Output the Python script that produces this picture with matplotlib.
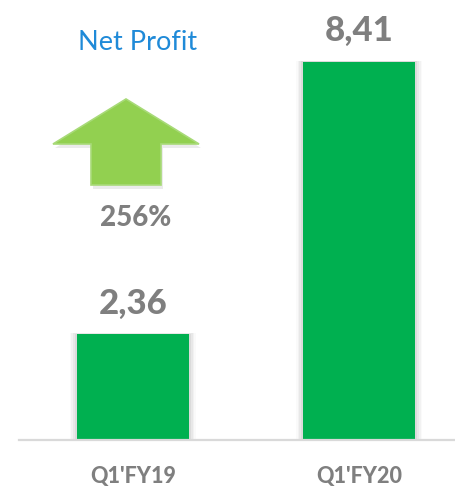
import matplotlib.pyplot as plt
from matplotlib.patches import Polygon, Rectangle

plt.rcParams['font.family'] = ['Lato', 'DejaVu Sans']

periods = ["Q1'FY19", "Q1'FY20"]
profit = [2.36, 8.41]
value_labels = ["2,36", "8,41"]
growth_label = "256%"
title = "Net Profit"

W, H = 456, 488
fig = plt.figure(figsize=(W / 100, H / 100), dpi=100)
fig.patch.set_facecolor('white')

# axes: baseline at 440px from top, axis line starts at x=19px
ax = fig.add_axes([19 / W, 48 / H, 1 - 19 / W, 440 / H])
ax.set_xlim(-0.504, 1.429)
ax.set_ylim(0, 440 / 45.0)

pos = list(range(len(periods)))
bw = 0.496

# soft shadow around the bars
for i, v in zip(pos, profit):
    for k, a in enumerate([0.05, 0.04, 0.03, 0.02]):
        d = 0.008 * (k + 1)
        ax.add_patch(Rectangle((i - bw / 2 - d, 0), bw + 2 * d, v + d * 0.6,
                               color='black', alpha=a, lw=0, zorder=1))

ax.bar(pos, profit, width=bw, color='#00b050', zorder=2)

for i, v, t in zip(pos, profit, value_labels):
    ax.annotate(t, (i, v), xytext=(0, 14.5), textcoords='offset points',
                ha='center', va='baseline', fontsize=25, fontweight='black',
                color='#7f7f7f')

ax.set_xticks(pos)
ax.set_xticklabels(periods, fontsize=15.5, fontweight='black', color='#7f7f7f')
ax.tick_params(axis='x', length=0, pad=19)
ax.set_yticks([])
for s in ['top', 'right', 'left']:
    ax.spines[s].set_visible(False)
ax.spines['bottom'].set_color('#d9d9d9')
ax.spines['bottom'].set_linewidth(1.6)
ax.patch.set_alpha(0)

# up arrow (decoration), pixel coords from top-left
arrow_px = [(126, 99), (199, 144), (161, 144), (161, 185),
            (91, 185), (91, 144), (53, 144)]
shadow = [(x + 2, y + 4) for x, y in arrow_px]
fig.patches.append(Polygon([(x / W, 1 - y / H) for x, y in shadow],
                           closed=True, transform=fig.transFigure,
                           facecolor='#000000', alpha=0.08, lw=0))
fig.patches.append(Polygon([(x / W, 1 - y / H) for x, y in arrow_px],
                           closed=True, transform=fig.transFigure,
                           facecolor='#92d050', edgecolor='#a8da78', lw=1.2))

fig.text(138 / W, 1 - 42 / H, title, ha='center', va='center',
         fontsize=19.5, color='#1f8ad8')
fig.text(136 / W, 1 - 218 / H, growth_label, ha='center', va='center',
         fontsize=20, fontweight='black', color='#7f7f7f')

fig.savefig('out.png', dpi=100)
